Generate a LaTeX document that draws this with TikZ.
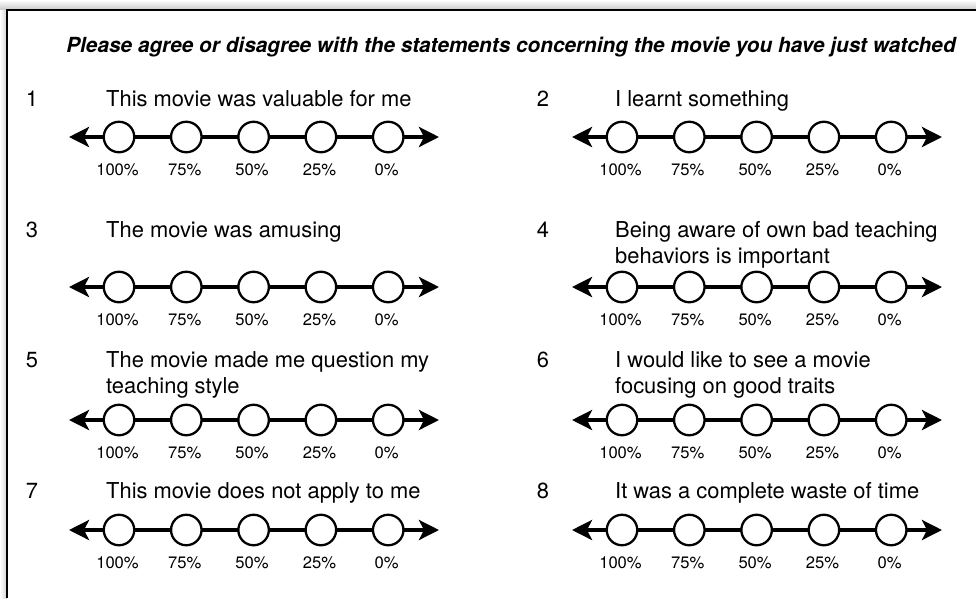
\documentclass[tikz,border=0pt]{standalone}
\usepackage{fontspec}
\setmainfont{TeX Gyre Heros}
\usetikzlibrary{arrows.meta}
\newcommand{\stmtfont}{\fontsize{21.9}{26}\selectfont}
\newcommand{\pctfont}{\fontsize{16.6}{19}\selectfont}
\newcommand{\lkscale}[3]{%
  \coordinate (#1L) at (#2-50,#3);
  \coordinate (#1R) at (#2+320,#3);
  \draw[axisline] (#1L) -- (#1R);
  \foreach \i/\p in {0/100,1/75,2/50,3/25,4/0}{
    \node[dot] (#1c\i) at (#2+67.3*\i,#3) {};
    \node[pct] (#1p\i) at (#2+67.3*\i-1.5,#3+38) {\p\%};
  }%
}
\begin{document}
\begin{tikzpicture}[x=1pt,y=-1pt,
  axisline/.style={line width=4pt,
    arrows={Stealth[length=20pt,width=20pt,inset=5pt]-Stealth[length=20pt,width=20pt,inset=5pt]}},
  dot/.style={circle,draw,line width=2.3pt,fill=white,minimum size=30.5pt,inner sep=0pt},
  pct/.style={anchor=base,inner sep=0pt,font=\pctfont},
  stmt/.style={anchor=base west,inner sep=0pt,font=\stmtfont},
  num/.style={anchor=base,inner sep=0pt,font=\stmtfont},
  title/.style={anchor=base,inner sep=0pt,font=\fontsize{20.8}{24}\selectfont\bfseries\itshape}]
\useasboundingbox (0,0) rectangle (976,598);
\fill[white] (0,0) rectangle (976,598);
% frame shadow
\shade[top color=white,bottom color=black!22] (0,0) rectangle (976,10);
\shade[left color=white,right color=black!18] (0,10) rectangle (7,598);
\draw[line width=2pt] (7,598) -- (7,10) -- (976,10);
% title
\node[title] (title) at (511,52) {Please agree or disagree with the statements concerning the movie you have just watched};
% row 1
\node[num] (n1) at (32,106) {1};
\node[stmt] (s1) at (106,106) {This movie was valuable for me};
\node[num] (n2) at (543,106) {2};
\node[stmt] (s2) at (615,106) {I learnt something};
\lkscale{a}{119}{137}
\lkscale{b}{622}{137}
% row 2
\node[num] (n3) at (32,237) {3};
\node[stmt] (s3) at (106,237) {The movie was amusing};
\node[num] (n4) at (543,237) {4};
\node[stmt] (s4a) at (615,237) {Being aware of own bad teaching};
\node[stmt] (s4b) at (615,263) {behaviors is important};
\lkscale{c}{119}{287}
\lkscale{d}{622}{287}
% row 3
\node[num] (n5) at (32,367) {5};
\node[stmt] (s5a) at (106,367) {The movie made me question my};
\node[stmt] (s5b) at (106,393) {teaching style};
\node[num] (n6) at (543,367) {6};
\node[stmt] (s6a) at (615,367) {I would like to see a movie};
\node[stmt] (s6b) at (615,393) {focusing on good traits};
\lkscale{e}{119}{420}
\lkscale{f}{622}{420}
% row 4
\node[num] (n7) at (32,498) {7};
\node[stmt] (s7) at (106,498) {This movie does not apply to me};
\node[num] (n8) at (543,498) {8};
\node[stmt] (s8) at (615,498) {It was a complete waste of time};
\lkscale{g}{119}{530}
\lkscale{h}{622}{530}
\end{tikzpicture}
\end{document}
